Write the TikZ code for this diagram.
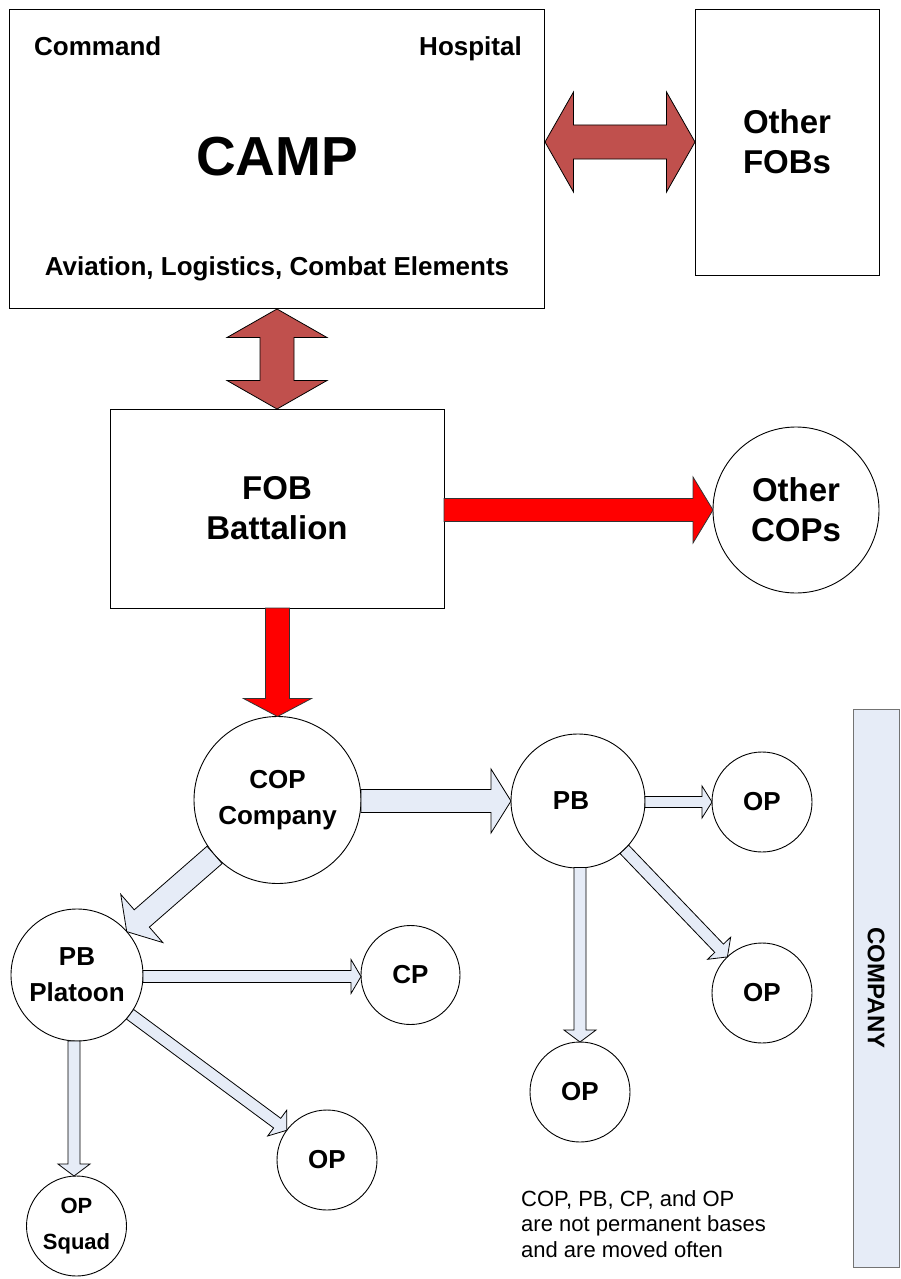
\documentclass[tikz,border=0pt]{standalone}
\usepackage{fontspec}
\setmainfont{Liberation Sans}
\usetikzlibrary{calc}
\definecolor{darkred}{RGB}{192,80,77}
\definecolor{lightfill}{RGB}{230,236,247}
\tikzset{
  box/.style={draw=black,line width=0.9pt,inner sep=0pt,outer sep=0pt},
  site/.style={circle,draw=black,line width=0.9pt,inner sep=0pt,outer sep=0pt,align=center,
    font=\fontsize{26}{36}\selectfont\bfseries},
  lbl/.style={inner sep=0pt,align=center,font=\fontsize{26}{36}\selectfont\bfseries},
  biglbl/.style={inner sep=0pt,align=center,font=\fontsize{33}{40}\selectfont\bfseries},
  redarrow/.style={fill=red,draw=black!80,line width=0.8pt,line join=miter},
  brownarrow/.style={fill=darkred,draw=black,line width=0.8pt,line join=miter},
  lightarrow/.style={fill=lightfill,draw=black,line width=0.8pt,line join=miter},
}
% style, start, tip, shaft half width, head half width, head length
\newcommand{\blockarr}[6]{%
  \coordinate (hb) at ($(#3)!#6!(#2)$);
  \draw[#1] ($(#2)!#4!90:(#3)$) -- ($(hb)!#4!-90:(#2)$) -- ($(hb)!#5!-90:(#2)$) -- (#3)
    -- ($(hb)!#5!90:(#2)$) -- ($(hb)!#4!90:(#2)$) -- ($(#2)!#4!-90:(#3)$) -- cycle;}
% style, tip A, tip B, shaft half width, head half width, head length
\newcommand{\dblarr}[6]{%
  \coordinate (ha) at ($(#2)!#6!(#3)$);
  \coordinate (hb) at ($(#3)!#6!(#2)$);
  \draw[#1] (#2) -- ($(ha)!#5!90:(#3)$) -- ($(ha)!#4!90:(#3)$) -- ($(hb)!#4!-90:(#2)$)
    -- ($(hb)!#5!-90:(#2)$) -- (#3) -- ($(hb)!#5!90:(#2)$) -- ($(hb)!#4!90:(#2)$)
    -- ($(ha)!#4!-90:(#3)$) -- ($(ha)!#5!-90:(#3)$) -- cycle;}
\begin{document}
\begin{tikzpicture}[x=1pt,y=-1pt]
\useasboundingbox (0,0) rectangle (900,1279);
% boxes
\node[box,minimum width=535pt,minimum height=299pt] (camp) at (276.5,158.5) {};
\node[lbl,anchor=base west] (cmd) at (34,56) {Command};
\node[lbl,anchor=base east] (hosp) at (522,56) {Hospital};
\node[inner sep=0pt,font=\fontsize{55}{60}\selectfont\bfseries] (campt) at (277,157) {CAMP};
\node[lbl] (avl) at (277,269) {Aviation, Logistics, Combat Elements};
\node[box,minimum width=184pt,minimum height=266pt,biglbl] (ofob) at (787,142) {Other\\FOBs};
\node[box,minimum width=334pt,minimum height=199pt,biglbl] (fob) at (277,508.5) {FOB\\Battalion};
\node[site,biglbl,draw,minimum size=166pt] (ocop) at (796,510) {Other\\COPs};
% circles
\node[site,minimum size=167pt] (cop) at (277.5,800) {COP\\Company};
\node[site,minimum size=134pt] (pb) at (578,801) {\hspace*{-14pt}PB};
\node[site,minimum size=100pt] (op1) at (762,802) {OP};
\node[site,minimum size=100pt] (op2) at (762,993) {OP};
\node[site,minimum size=100pt] (op3) at (580,1092) {OP};
\node[site,minimum size=132pt] (pbp) at (77,975) {PB\\Platoon};
\node[site,minimum size=99pt] (cp) at (410.5,975) {CP};
\node[site,minimum size=100pt] (op4) at (327,1160) {OP};
\node[site,minimum size=100pt,font=\fontsize{22}{36}\selectfont\bfseries] (ops) at (76.5,1226) {OP\\Squad};
% company bar
\node[draw=black!55,line width=0.9pt,fill=lightfill,rotate=-90,minimum width=558pt,minimum height=46pt,
  inner sep=0pt,font=\fontsize{24}{28}\selectfont\bfseries] (bar) at (876,988) {COMPANY};
% note
\node[anchor=west,align=left,inner sep=0pt,font=\fontsize{22}{25.5}\selectfont] (note) at (521,1224)
  {COP, PB, CP, and OP\\are not permanent bases\\and are moved often};
% double arrows
\coordinate (d1a) at (545,142);
\coordinate (d1b) at (695,142);
\dblarr{brownarrow}{d1a}{d1b}{17pt}{50pt}{28.5pt}
\coordinate (d2a) at (277,309);
\coordinate (d2b) at (277,409);
\dblarr{brownarrow}{d2a}{d2b}{17pt}{50pt}{28.5pt}
% red arrows
\coordinate (r1a) at (fob.east |- ocop.west);
\coordinate (r1b) at (ocop.west);
\blockarr{redarrow}{r1a}{r1b}{11.5pt}{33pt}{20pt}
\coordinate (r2a) at (fob.south -| cop.north);
\coordinate (r2b) at (cop.north);
\blockarr{redarrow}{r2a}{r2b}{12pt}{34pt}{18pt}
% light arrows
\coordinate (a1a) at ($(cop.center)+(83.5,1)$);
\coordinate (a1b) at ($(pb.center)+(-67,0)$);
\blockarr{lightarrow}{a1a}{a1b}{11.5pt}{32pt}{20pt}
\coordinate (a2a) at ($(cop.center)!83.5pt!(pbp.center)$);
\coordinate (a2b) at ($(pbp.center)!66pt!(cop.center)$);
\blockarr{lightarrow}{a2a}{a2b}{11.5pt}{32pt}{20pt}
\coordinate (a3a) at ($(pb.center)+(67,1)$);
\coordinate (a3b) at (op1.west);
\blockarr{lightarrow}{a3a}{a3b}{5.5pt}{16pt}{10pt}
\coordinate (a4a) at ($(pb.center)!67pt!(op2.center)$);
\coordinate (a4b) at ($(op2.center)!50pt!(pb.center)$);
\blockarr{lightarrow}{a4a}{a4b}{6pt}{16pt}{12pt}
\coordinate (a5a) at ($(pb.center)+(2,66.5)$);
\coordinate (a5b) at (op3.north);
\blockarr{lightarrow}{a5a}{a5b}{6pt}{16pt}{12pt}
\coordinate (a6a) at ($(pbp.center)+(66,1.5)$);
\coordinate (a6b) at ($(cp.west)+(0,1.5)$);
\blockarr{lightarrow}{a6a}{a6b}{6pt}{17pt}{10pt}
\coordinate (a7a) at ($(pbp.center)!66pt!(op4.center)$);
\coordinate (a7b) at ($(op4.center)!50pt!(pbp.center)$);
\blockarr{lightarrow}{a7a}{a7b}{6pt}{16pt}{12pt}
\coordinate (a8a) at ($(pbp.center)+(-3,65.9)$);
\coordinate (a8b) at ($(ops.north)+(-2.5,0)$);
\blockarr{lightarrow}{a8a}{a8b}{6pt}{16pt}{12pt}
\end{tikzpicture}
\end{document}
